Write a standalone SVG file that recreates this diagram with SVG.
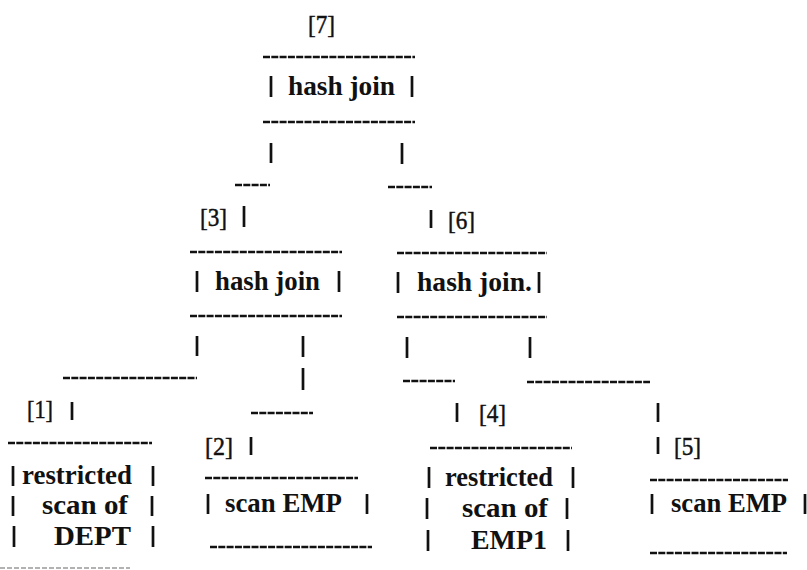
<svg xmlns="http://www.w3.org/2000/svg" width="807" height="570" viewBox="0 0 807 570">
<style>
text{font-family:"Liberation Serif","Times New Roman",serif;fill:#111}
.t{font-weight:bold;font-size:28px}
.n{font-weight:normal;font-size:26px;stroke:#111;stroke-width:0.5}
.bar{stroke:#111;stroke-width:2.6;stroke-dasharray:7 1.3;fill:none}
.pipe{stroke:#111;stroke-width:2.7;fill:none}
.faint{stroke:#999;stroke-width:1.5;stroke-dasharray:5 2;fill:none}
</style>
<rect width="807" height="570" fill="#fff"/>
<g id="connectors">
<path class="pipe" d="M271 143V163M402 143V164M244 206V227M431 210V228"/>
<path class="bar" d="M235 185H270M388 187H432"/>
<path class="pipe" d="M197 336V356M303 336V357M303 368V390M72 402V420M251 437V455"/>
<path class="bar" d="M63 378H197M251 413H313"/>
<path class="pipe" d="M407 337V358M530 337V358M457 403V422M658 403V422M658 437V454"/>
<path class="bar" d="M403 381H455M527 382H650"/>
</g>
<g id="node7">
<text class="n" x="308" y="33" textLength="27" lengthAdjust="spacingAndGlyphs">[7]</text>
<path class="bar" d="M263 57H415M263 122H415"/>
<path class="pipe" d="M271 76V97M412 76V97"/>
<text class="t" x="288" y="95" textLength="107" lengthAdjust="spacingAndGlyphs">hash join</text>
</g>
<g id="node3">
<text class="n" x="200" y="226" textLength="27" lengthAdjust="spacingAndGlyphs">[3]</text>
<path class="bar" d="M190 252H342M190 316H342"/>
<path class="pipe" d="M197 271V292M339 271V292"/>
<text class="t" x="215" y="290" textLength="105" lengthAdjust="spacingAndGlyphs">hash join</text>
</g>
<g id="node6">
<text class="n" x="448" y="229" textLength="27" lengthAdjust="spacingAndGlyphs">[6]</text>
<path class="bar" d="M397 253H547M397 317H547"/>
<path class="pipe" d="M398 272V293M539 272V293"/>
<text class="t" x="417" y="291" textLength="115" lengthAdjust="spacingAndGlyphs">hash join.</text>
</g>
<g id="node1">
<text class="n" x="27" y="418" textLength="26" lengthAdjust="spacingAndGlyphs">[1]</text>
<path class="bar" d="M8 443H152"/>
<path class="pipe" d="M13 466V486M153 466V486M13 496V516M152 496V516M14 526V547M153 526V547"/>
<text class="t" x="22" y="484" textLength="110" lengthAdjust="spacingAndGlyphs">restricted</text>
<text class="t" x="42" y="514" textLength="86" lengthAdjust="spacingAndGlyphs">scan of</text>
<text class="t" x="54" y="545" textLength="77" lengthAdjust="spacingAndGlyphs">DEPT</text>
<path class="faint" d="M0 568H130"/>
</g>
<g id="node2">
<text class="n" x="205" y="455" textLength="28" lengthAdjust="spacingAndGlyphs">[2]</text>
<path class="bar" d="M205 478H358M210 547H372"/>
<path class="pipe" d="M208 494V514M367 494V514"/>
<text class="t" x="225" y="512" textLength="117" lengthAdjust="spacingAndGlyphs">scan EMP</text>
</g>
<g id="node4">
<text class="n" x="479" y="422" textLength="27" lengthAdjust="spacingAndGlyphs">[4]</text>
<path class="bar" d="M430 448H572"/>
<path class="pipe" d="M429 467V488M573 467V488M427 498V519M567 498V519M428 530V551M568 530V551"/>
<text class="t" x="445" y="486" textLength="108" lengthAdjust="spacingAndGlyphs">restricted</text>
<text class="t" x="462" y="517" textLength="86" lengthAdjust="spacingAndGlyphs">scan of</text>
<text class="t" x="471" y="549" textLength="76" lengthAdjust="spacingAndGlyphs">EMP1</text>
</g>
<g id="node5">
<text class="n" x="674" y="455" textLength="27" lengthAdjust="spacingAndGlyphs">[5]</text>
<path class="bar" d="M650 480H788M650 553H787"/>
<path class="pipe" d="M652 494V514M805 494V514"/>
<text class="t" x="671" y="512" textLength="116" lengthAdjust="spacingAndGlyphs">scan EMP</text>
</g>
</svg>
